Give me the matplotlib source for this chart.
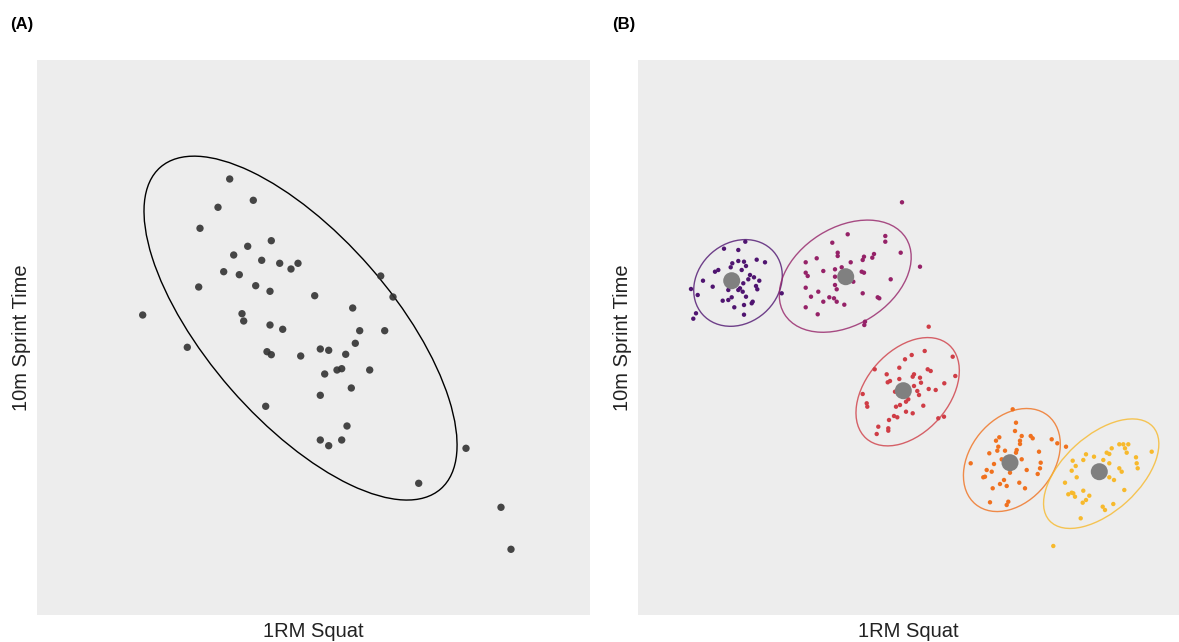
import numpy as np
import matplotlib
matplotlib.use("Agg")
import matplotlib.pyplot as plt
from matplotlib.patches import Ellipse

plt.rcParams['font.family'] = ['Liberation Sans', 'DejaVu Sans']

# ---- Panel A data (1RM squat, 10m sprint time; arbitrary units) ----
a_squat = [229.7, 253.3, 218.0, 200.0, 271.3, 247.7, 233.7, 261.7, 279.7, 298.0,
           291.0, 223.7, 239.3, 198.7, 255.7, 270.0, 314.7, 380.7, 393.0, 352.7,
           142.7, 242.0, 243.7, 270.0, 282.7, 359.7, 384.7, 355.3, 187.3, 267.0,
           271.3, 300.7, 320.3, 328.7, 345.7, 324.7, 337.0, 341.7, 369.7, 351.3,
           320.3, 265.7, 347.0, 320.3, 328.7, 341.7, 466.0, 418.7, 501.0, 511.0]
a_sprint = [179.0, 200.3, 207.3, 228.3, 240.7, 246.3, 255.0, 260.3, 263.3, 263.3,
            269.0, 271.7, 274.7, 287.0, 285.7, 291.3, 295.7, 276.0, 297.0, 308.0,
            315.0, 313.7, 321.0, 325.0, 329.3, 330.7, 330.7, 343.3, 347.3, 351.7,
            354.7, 356.0, 349.0, 350.3, 354.3, 374.0, 370.0, 368.7, 370.0, 388.0,
            395.3, 406.3, 426.0, 440.0, 445.7, 440.0, 448.3, 483.3, 507.3, 549.3]

# ---- Panel B data: five clusters ----
c1_squat = [745.3, 724.0, 738.3, 756.7, 765.0, 732.3, 738.3, 744.0, 746.0, 730.7,
            741.7, 715.0, 718.3, 750.0, 754.0, 759.3, 703.0, 756.0, 757.3, 712.7,
            743.3, 740.0, 742.7, 738.3, 691.0, 697.7, 728.3, 746.0, 731.7, 728.3,
            722.7, 752.7, 751.7, 744.0, 734.3, 781.7, 744.0, 696.0, 693.3, 748.3]
c1_sprint = [241.7, 248.7, 250.0, 259.7, 262.3, 263.3, 261.0, 261.7, 266.0, 267.3,
             270.0, 271.7, 270.0, 275.0, 277.3, 280.7, 280.7, 286.0, 289.3, 286.7,
             283.3, 288.3, 291.7, 290.0, 289.0, 295.0, 290.0, 296.7, 297.3, 300.0,
             300.7, 301.7, 303.3, 305.0, 307.3, 293.3, 314.7, 313.3, 318.7, 279.3]

c2_squat = [902.0, 847.7, 885.3, 885.3, 832.3, 837.7, 837.7, 874.0, 872.3, 864.0,
            862.7, 900.7, 816.7, 805.7, 850.7, 823.3, 835.0, 841.7, 805.7, 807.7,
            861.7, 864.0, 920.0, 835.0, 853.3, 890.7, 835.0, 836.7, 805.7, 818.3,
            862.7, 811.0, 829.3, 834.0, 836.7, 823.3, 877.7, 879.3, 844.3, 805.7,
            817.7, 865.0, 864.3]
c2_sprint = [202.3, 234.3, 236.0, 241.7, 242.7, 252.7, 256.0, 254.0, 257.7, 256.7,
             260.0, 252.7, 258.3, 262.3, 262.3, 271.0, 269.3, 267.3, 272.7, 276.0,
             271.7, 272.7, 266.7, 276.7, 281.7, 279.3, 285.0, 289.3, 287.7, 291.7,
             293.3, 296.7, 297.3, 298.3, 301.7, 301.7, 297.3, 298.3, 304.7, 307.3,
             314.3, 321.7, 325.0]

c3_squat = [928.7, 924.7, 911.7, 905.0, 952.7, 899.3, 874.7, 927.7, 930.7, 886.7,
            914.0, 912.7, 955.3, 920.0, 890.0, 887.7, 899.3, 921.0, 944.3, 914.0,
            862.7, 917.3, 928.7, 935.7, 895.0, 919.0, 908.3, 906.0, 866.7, 867.3,
            900.0, 896.0, 923.3, 906.0, 912.7, 894.0, 897.3, 889.0, 938.3, 944.0,
            878.3, 888.3, 888.3, 876.7]
c3_sprint = [326.7, 351.0, 355.0, 359.3, 356.7, 367.7, 369.3, 369.3, 371.0, 374.3,
             374.3, 376.7, 376.0, 377.7, 381.0, 382.3, 379.0, 382.7, 383.3, 386.0,
             394.0, 391.0, 389.0, 390.0, 391.7, 395.0, 399.3, 401.7, 403.3, 406.7,
             405.0, 406.7, 405.7, 411.7, 413.3, 416.0, 417.3, 420.0, 418.3, 416.7,
             426.7, 428.3, 430.7, 434.0]

c4_squat = [1012.7, 1016.0, 1015.0, 999.3, 996.0, 1021.7, 1030.7, 1032.7, 1020.0, 1020.0,
            998.3, 997.3, 1005.0, 1016.7, 1016.0, 989.3, 1039.0, 1051.7, 1057.3, 1066.0,
            1001.7, 1021.7, 970.7, 994.0, 1040.7, 1040.0, 986.7, 991.7, 1010.0, 1026.7,
            1037.7, 983.3, 985.0, 1004.0, 1000.0, 1006.7, 1019.3, 992.7, 1025.0, 990.0,
            1008.3, 1006.7]
c4_sprint = [409.3, 422.7, 431.0, 437.3, 440.7, 436.0, 436.0, 438.3, 440.7, 444.0,
             446.7, 450.7, 450.7, 450.0, 452.7, 453.3, 451.7, 439.3, 443.3, 446.7,
             459.3, 459.3, 463.3, 464.0, 462.7, 468.3, 470.0, 471.7, 472.7, 470.0,
             474.0, 477.3, 476.7, 480.0, 484.0, 486.0, 482.7, 488.3, 488.3, 502.3,
             501.7, 505.0]

c5_squat = [1151.7, 1119.3, 1123.3, 1128.3, 1125.0, 1126.7, 1111.7, 1106.7, 1109.3, 1086.0,
            1094.0, 1083.3, 1072.7, 1103.3, 1109.3, 1136.0, 1136.7, 1137.7, 1075.7, 1071.7,
            1119.3, 1121.7, 1076.7, 1109.3, 1114.0, 1065.0, 1083.3, 1068.3, 1073.3, 1075.0,
            1089.3, 1124.3, 1082.7, 1086.0, 1113.3, 1102.7, 1105.0, 1080.7, 1053.3, 1071.7]
c5_sprint = [451.7, 444.3, 444.3, 444.3, 448.3, 452.7, 448.3, 452.7, 454.0, 454.3,
             456.7, 460.0, 460.7, 460.0, 463.3, 457.3, 463.3, 468.3, 466.0, 470.7,
             468.3, 471.7, 477.3, 477.3, 480.0, 482.7, 490.7, 494.3, 493.3, 496.7,
             495.7, 490.0, 502.7, 500.0, 504.0, 506.7, 510.0, 518.3, 546.0, 492.7]

centroid_squat = [731.7, 845.7, 903.3, 1010.0, 1099.3]
centroid_sprint = [280.7, 276.7, 390.7, 462.7, 471.7]

cluster_colors = ['#4f1470', '#952268', '#cf3d46', '#f0711f', '#f7b92c']


def cov_trob(X, nu=5, maxit=100, tol=1e-3):
    """Robust multivariate-t location/scatter (as MASS::cov.trob)."""
    n, p = X.shape
    loc = X.mean(axis=0)
    w = np.ones(n)
    for _ in range(maxit):
        w0 = w
        D = X - loc
        S = (w[:, None] * D).T @ D / w.sum()
        Q = np.einsum('ij,jk,ik->i', D, np.linalg.inv(S), D)
        w = (nu + p) / (nu + Q)
        loc = (w[:, None] * X).sum(axis=0) / w.sum()
        if np.all(np.abs(w - w0) < tol):
            break
    D = X - loc
    cov = (w[:, None] * D).T @ D / n
    return loc, cov


def data_ellipse(ax, x, y, level=0.95, **kw):
    X = np.column_stack([x, y])
    n = len(X)
    loc, cov = cov_trob(X)
    # radius = sqrt(2 * qf(level, 2, n-1)); F(2, d) quantile closed form
    d = n - 1
    fq = d / 2 * ((1 - level) ** (-2 / d) - 1)
    r = np.sqrt(2 * fq)
    vals, vecs = np.linalg.eigh(cov)
    order = vals.argsort()[::-1]
    vals, vecs = vals[order], vecs[:, order]
    ang = np.degrees(np.arctan2(vecs[1, 0], vecs[0, 0]))
    w, h = 2 * r * np.sqrt(vals)
    ax.add_patch(Ellipse(tuple(loc), w, h, angle=ang, fill=False, **kw))


fig = plt.figure(figsize=(11.79, 6.42), dpi=100)
bg = '#ededed'

axA = fig.add_axes([37/1179, 1 - 615/642, (590-37)/1179, (615-60)/642])
axB = fig.add_axes([638/1179, 1 - 615/642, (1179-638)/1179, (615-60)/642])

for ax in (axA, axB):
    ax.set_facecolor(bg)
    for s in ax.spines.values():
        s.set_visible(False)
    ax.set_xticks([]); ax.set_yticks([])
    ax.set_xlabel('1RM Squat', fontsize=14.5, labelpad=5, color='#222222')
    ax.set_ylabel('10m Sprint Time', fontsize=14.5, labelpad=4, color='#222222')

axA.set_xlim(37, 590); axA.set_ylim(615, 60)
axB.set_xlim(638, 1179); axB.set_ylim(615, 60)

# Panel A
axA.scatter(a_squat, a_sprint, s=28, color='#333333', alpha=0.9, edgecolors='none', zorder=3)
data_ellipse(axA, a_squat, a_sprint, color='black', lw=1.0, zorder=2)

# Panel B
clusters = [(c1_squat, c1_sprint), (c2_squat, c2_sprint), (c3_squat, c3_sprint),
            (c4_squat, c4_sprint), (c5_squat, c5_sprint)]
for (xs, ys), col in zip(clusters, cluster_colors):
    axB.scatter(xs, ys, s=10, color=col, edgecolors='none', zorder=3)
    data_ellipse(axB, xs, ys, color=col, alpha=0.8, lw=1.0, zorder=2)
axB.scatter(centroid_squat, centroid_sprint, s=150, color='#808080', edgecolors='none', zorder=4)

fig.text(10/1179, 1 - 25/642, '(A)', fontsize=12, fontweight='bold', va='center', ha='left')
fig.text(612/1179, 1 - 25/642, '(B)', fontsize=12, fontweight='bold', va='center', ha='left')

fig.savefig('out.png', dpi=100, facecolor='white')
